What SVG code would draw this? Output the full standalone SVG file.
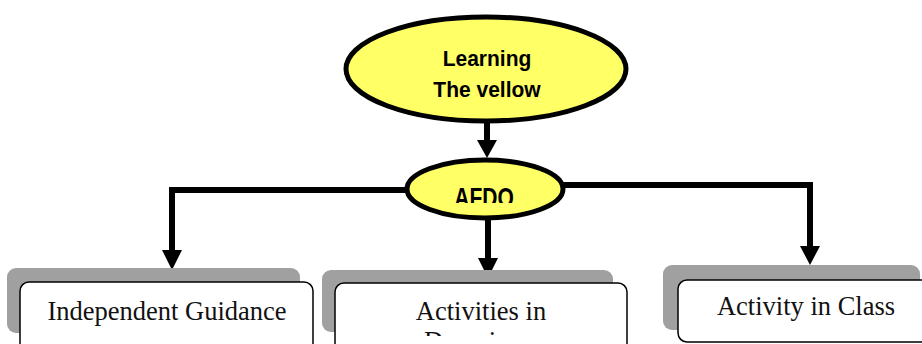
<svg xmlns="http://www.w3.org/2000/svg" width="922" height="344" viewBox="0 0 922 344">
<style>
.ell{fill:#ffff66;stroke:#000;stroke-width:5}
.sh{fill:#a0a0a0}
.box{fill:#fff;stroke:#000;stroke-width:1.5}
.bt{font-family:"Liberation Serif","Times New Roman",serif;font-size:26.5px;fill:#111;text-anchor:middle}
.et{font-family:"Liberation Sans",Arial,sans-serif;font-weight:bold;font-size:21px;fill:#000;text-anchor:middle}
.ln{fill:none;stroke:#000;stroke-width:6}
</style>
<defs>
<clipPath id="afdoClip"><rect x="400" y="160" width="170" height="43"/></clipPath>
<clipPath id="domClip"><rect x="340" y="286" width="280" height="50"/></clipPath>
</defs>
<rect width="922" height="344" fill="#fff"/>
<g id="connectors">
<line class="ln" x1="487" y1="120" x2="487" y2="142"/>
<polygon points="477,140 497,140 487,158"/>
<polyline class="ln" points="410,190 172,190 172,252"/>
<polygon points="162,250 182,250 172,270"/>
<line class="ln" x1="488" y1="215" x2="488" y2="260"/>
<polygon points="478,258 498,258 488,278"/>
<polyline class="ln" points="560,185 810,185 810,248"/>
<polygon points="800,246 820,246 810,265"/>
</g>
<g id="learning">
<ellipse class="ell" cx="486" cy="69" rx="140" ry="52"/>
<text class="et" transform="translate(487,66) scale(1,1.08)">Learning</text>
<text class="et" transform="translate(487,97) scale(1,1.08)">The vellow</text>
</g>
<g id="afdo">
<ellipse class="ell" cx="485" cy="189" rx="78" ry="29"/>
<g clip-path="url(#afdoClip)">
<text class="et" transform="translate(484,207) scale(1,1.35)" x="0" y="0">AFDO</text>
</g>
</g>
<g id="independent-guidance">
<rect class="sh" x="7" y="268" width="293" height="65" rx="9"/>
<rect class="box" x="20" y="282" width="293" height="75" rx="9"/>
<text class="bt" x="167" y="320">Independent Guidance</text>
</g>
<g id="activities-in-domain">
<rect class="sh" x="322" y="270" width="291" height="62" rx="9"/>
<rect class="box" x="335" y="283" width="292" height="75" rx="9"/>
<text class="bt" x="481" y="320">Activities in</text>
<g clip-path="url(#domClip)">
<text class="bt" x="424" y="350" style="text-anchor:start">Domain</text>
</g>
</g>
<g id="activity-in-class">
<rect class="sh" x="663" y="265" width="257" height="65" rx="9"/>
<rect class="box" x="678" y="280" width="260" height="62" rx="9"/>
<text class="bt" x="806" y="315">Activity in Class</text>
</g>
</svg>
